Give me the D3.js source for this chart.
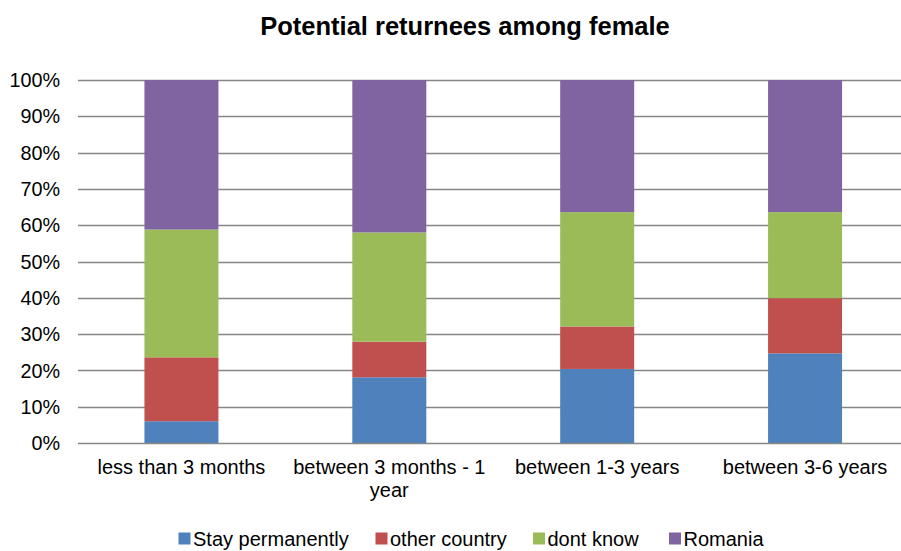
<!DOCTYPE html>
<html><head><meta charset="utf-8">
<script src="https://cdn.jsdelivr.net/npm/d3@7"></script>
<style>body{margin:0;background:#fff;} svg{display:block;font-family:"Liberation Sans",Arial,sans-serif;}</style>
</head><body>
<svg id="c" width="901" height="551"></svg>
<script>
const categories = ["less than 3 months", "between 3 months - 1 year", "between 1-3 years", "between 3-6 years"];
const seriesNames = ["Stay permanently", "other country", "dont know", "Romania"];
const stayPermanently = [6.0, 18.1, 20.4, 24.7];
const otherCountry = [17.6, 9.8, 11.7, 15.2];
const dontKnow = [35.2, 30.1, 31.5, 23.7];
const romania = [41.2, 42.0, 36.4, 36.4];
const colors = ["#4F81BD", "#C0504D", "#9BBB59", "#8064A2"];
const yTicks = [0, 10, 20, 30, 40, 50, 60, 70, 80, 90, 100];
const title = "Potential returnees among female";

const svg = d3.select("#c");
const rows = categories.map((c, i) => ({cat: c, s0: stayPermanently[i], s1: otherCountry[i], s2: dontKnow[i], s3: romania[i]}));
const keys = ["s0", "s1", "s2", "s3"];
const stack = d3.stack().keys(keys)(rows);

const x = d3.scaleBand().domain(categories).range([77.5, 909]).paddingInner(0.644).paddingOuter(0.322);
const y = d3.scaleLinear().domain([0, 100]).range([443, 80]);

// title
svg.append("text").attr("x", 465).attr("y", 35).attr("text-anchor", "middle")
  .attr("font-size", 25.5).attr("font-weight", "bold").attr("fill", "#000").text(title);

// gridlines
svg.append("g").selectAll("line").data(yTicks.filter(d => d > 0)).join("line")
  .attr("x1", 78).attr("x2", 901)
  .attr("y1", d => Math.round(y(d)) + 0.5).attr("y2", d => Math.round(y(d)) + 0.5)
  .attr("stroke", "#868686").attr("stroke-width", 1.3);

// y labels
svg.append("g").selectAll("text").data(yTicks).join("text")
  .attr("x", 60).attr("y", d => y(d)).attr("dy", "0.36em").attr("text-anchor", "end")
  .attr("font-size", 19.8).attr("fill", "#000").text(d => d + "%");

// bars
svg.append("g").selectAll("g").data(stack).join("g")
  .attr("fill", (d, i) => colors[i])
  .selectAll("rect").data(d => d).join("rect")
  .attr("x", d => x(d.data.cat)).attr("width", x.bandwidth())
  .attr("y", d => y(d[1])).attr("height", d => y(d[0]) - y(d[1]));

// x axis line
svg.append("line").attr("x1", 78).attr("x2", 901).attr("y1", 443.5).attr("y2", 443.5)
  .attr("stroke", "#868686").attr("stroke-width", 1.5);

// x labels with wrap
const maxW = 205;
const xl = svg.append("g");
categories.forEach(c => {
  const cx = x(c) + x.bandwidth() / 2;
  const t = xl.append("text").attr("x", cx).attr("y", 474)
    .attr("text-anchor", "middle").attr("font-size", 20).attr("fill", "#000");
  const words = c.split(" ");
  let line = [];
  let ts = t.append("tspan").attr("x", cx).attr("dy", 0);
  words.forEach(w => {
    line.push(w);
    ts.text(line.join(" "));
    if (ts.node().getComputedTextLength() > maxW && line.length > 1) {
      line.pop(); ts.text(line.join(" "));
      line = [w];
      ts = t.append("tspan").attr("x", cx).attr("dy", 23).text(w);
    }
  });
});

// legend
const legX = [178.5, 375.5, 533, 669];
const lg = svg.append("g");
seriesNames.forEach((n, i) => {
  lg.append("rect").attr("x", legX[i]).attr("y", 532.5).attr("width", 12).attr("height", 12).attr("fill", colors[i]);
  lg.append("text").attr("x", legX[i] + 14.5).attr("y", 546).attr("font-size", 20).attr("fill", "#000").text(n);
});
</script>
</body></html>
